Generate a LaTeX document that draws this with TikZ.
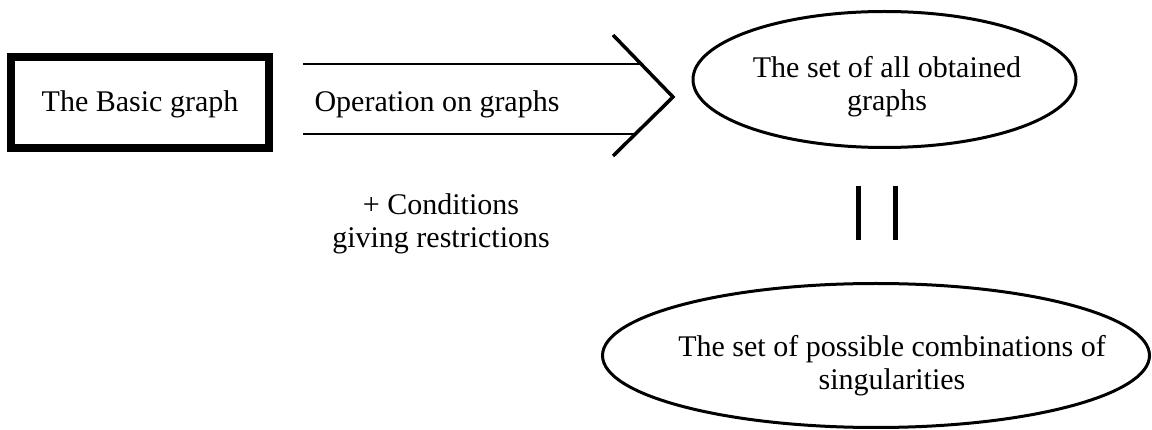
\documentclass[tikz,border=0pt]{standalone}
\usepackage{fontspec}
\setmainfont{Liberation Serif}
\usetikzlibrary{shapes.geometric}
\tikzset{
  lbl/.style={font=\fontsize{30}{33}\selectfont, align=center, inner sep=0pt},
  basicbox/.style={draw, line width=8pt, minimum width=258pt, minimum height=91pt, inner sep=0pt},
  setell/.style={draw, ellipse, line width=3pt, inner sep=0pt},
  arrline/.style={line width=2.4pt},
  arrhead/.style={line width=3.5pt},
  eqbar/.style={line width=5pt}
}
\begin{document}
\begin{tikzpicture}[x=1pt,y=-1pt]
\useasboundingbox (0,0) rectangle (1152,430);
% basic graph box
\node[basicbox] (basic) at (140,102.5) {};
\node[lbl, anchor=base] (basictxt) at (140,112) {The Basic graph};
% big arrow
\coordinate (a1) at (303,64);
\coordinate (a2) at (640,64);
\coordinate (b1) at (303,134);
\coordinate (b2) at (635,134);
\coordinate (h1) at (613,35);
\coordinate (tip) at (673,97);
\coordinate (h2) at (613,156);
\draw[arrline] (a1) -- (a2);
\draw[arrline] (b1) -- (b2);
\draw[arrhead, line join=miter] (h1) -- (tip) -- (h2);
\node[lbl, anchor=base] (op) at (437,112) {Operation on graphs};
\node[lbl, anchor=base] (cond) at (441,248) {+ Conditions\\giving restrictions};
% ellipse 1
\node[setell, minimum width=383pt, minimum height=136pt] (e1) at (884.5,79.5) {};
\node[lbl, anchor=base] (e1txt) at (887,111) {The set of all obtained\\graphs};
% equality bars
\coordinate (q1t) at (858,186);
\coordinate (q1b) at (858,240);
\coordinate (q2t) at (895,186);
\coordinate (q2b) at (895,240);
\draw[eqbar] (q1t) -- (q1b);
\draw[eqbar] (q2t) -- (q2b);
% ellipse 2
\node[setell, minimum width=547pt, minimum height=144pt] (e2) at (876,355.5) {};
\node[lbl, anchor=base] (e2txt) at (892,390) {The set of possible combinations of\\singularities};
\end{tikzpicture}
\end{document}
